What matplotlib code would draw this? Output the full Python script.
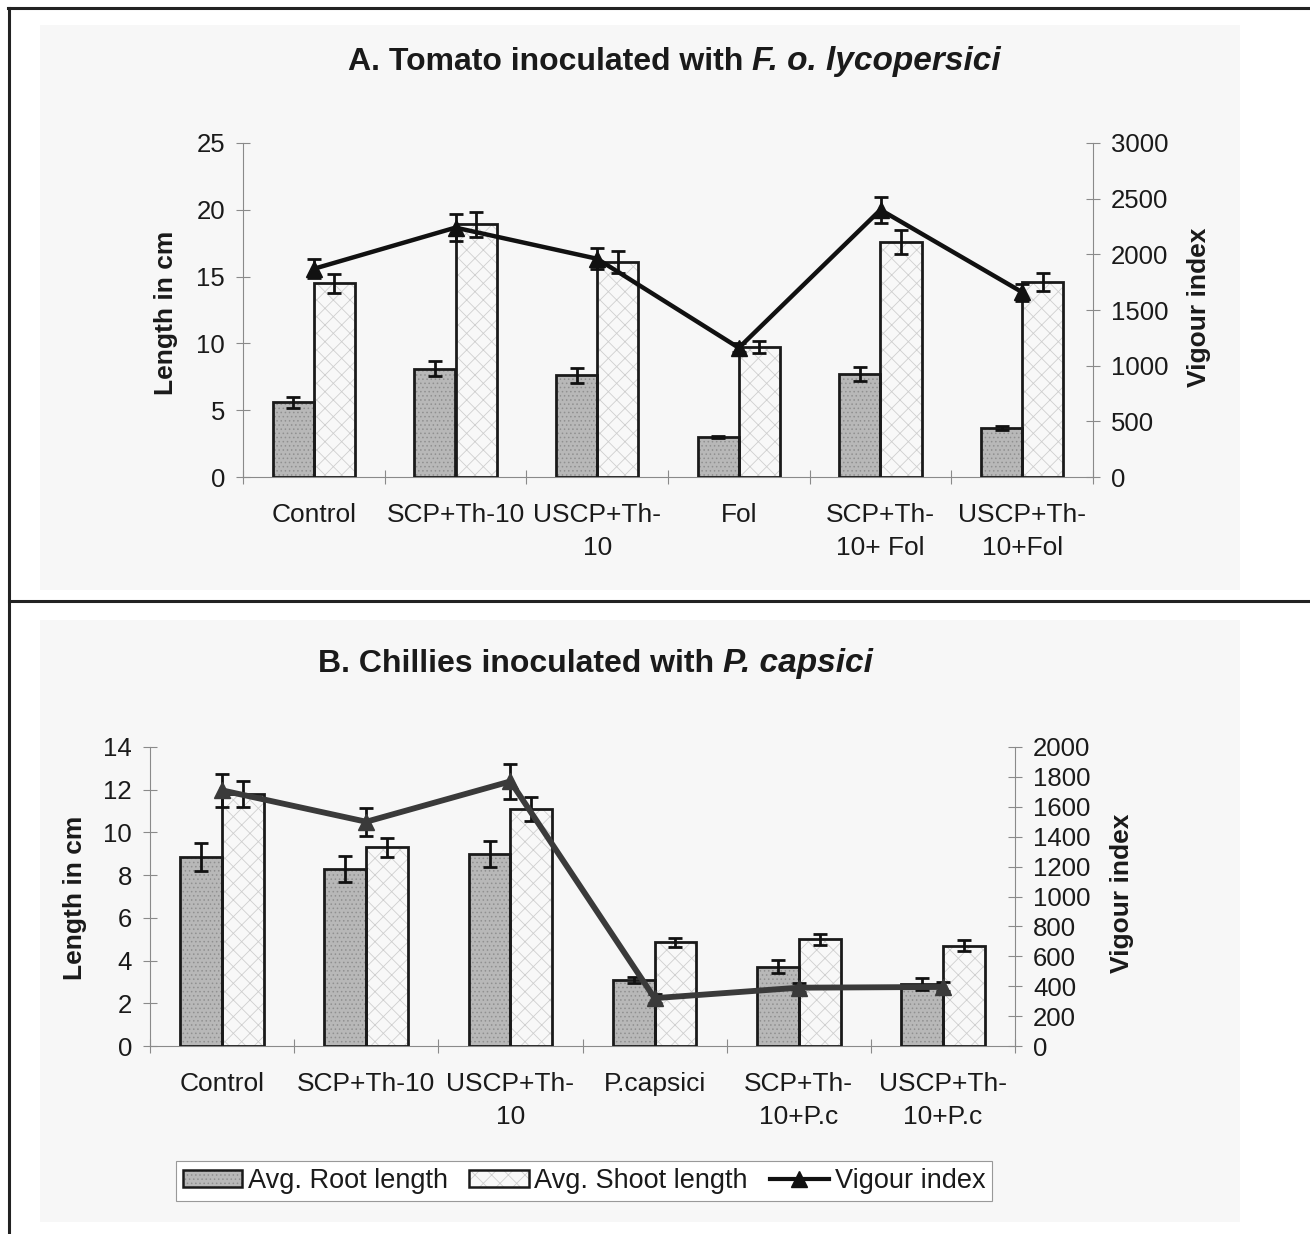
import matplotlib
matplotlib.use("Agg")
import matplotlib.pyplot as plt
from matplotlib.patches import Patch, Rectangle
from matplotlib.lines import Line2D
import numpy as np

plt.rcParams['font.family'] = ['Liberation Sans', 'DejaVu Sans']
plt.rcParams['hatch.linewidth'] = 0.6

# ---------------- data ----------------
categories_A = ['Control', 'SCP+Th-10', 'USCP+Th-\n10', 'Fol', 'SCP+Th-\n10+ Fol', 'USCP+Th-\n10+Fol']
root_A = [5.6, 8.1, 7.6, 3.0, 7.7, 3.7]
root_A_err = [0.4, 0.55, 0.55, 0.1, 0.55, 0.15]
shoot_A = [14.5, 18.9, 16.1, 9.7, 17.6, 14.6]
shoot_A_err = [0.7, 0.95, 0.8, 0.45, 0.9, 0.7]
vig_A = [1870, 2240, 1960, 1160, 2400, 1660]
vig_A_err = [85, 120, 95, 40, 115, 75]

categories_B = ['Control', 'SCP+Th-10', 'USCP+Th-\n10', 'P.capsici', 'SCP+Th-\n10+P.c', 'USCP+Th-\n10+P.c']
root_B = [8.85, 8.3, 9.0, 3.1, 3.72, 2.9]
root_B_err = [0.65, 0.6, 0.6, 0.15, 0.3, 0.3]
shoot_B = [11.8, 9.3, 11.1, 4.85, 5.0, 4.7]
shoot_B_err = [0.6, 0.45, 0.55, 0.22, 0.25, 0.25]
vig_B = [1710, 1500, 1770, 320, 390, 395]
vig_B_err = [110, 95, 115, 30, 30, 30]

legend_labels = ['Avg. Root length', 'Avg. Shoot length', 'Vigour index']

W, H = 1310, 1234
fig = plt.figure(figsize=(W / 100, H / 100), dpi=100)
fig.patch.set_facecolor('white')

def fx(px):
    return px / W

def fy(py):
    return 1 - py / H

# panel backgrounds (scanned paper tone)
for (x0, y0, x1, y1) in [(40, 25, 1240, 590), (40, 620, 1240, 1222)]:
    fig.add_artist(Rectangle((fx(x0), fy(y1)), fx(x1) - fx(x0), fy(y0) - fy(y1),
                             transform=fig.transFigure, facecolor='#f7f7f7',
                             edgecolor='none', zorder=0))

# frame lines
for xs, ys in [([8, 1310], [8, 8]), ([9, 9], [8, 1234]), ([9, 1310], [601, 601])]:
    fig.add_artist(Line2D([fx(v) for v in xs], [fy(v) for v in ys],
                          transform=fig.transFigure, color='#222222', lw=2.2, zorder=1))

ROOT_FILL = '#b8b8b8'
ROOT_HATCH = '#909090'
SHOOT_FILL = '#f8f8f8'
SHOOT_HATCH = '#cfcfcf'
SPINE = '#8a8a8a'
TXT = '#1a1a1a'

def make_panel(rect, cats, root, root_err, shoot, shoot_err, vig, vig_err,
               ylim, yticks, y2lim, y2ticks, line_color, line_w):
    ax = fig.add_axes(rect)
    ax.set_facecolor('none')
    x = np.arange(len(cats))
    w = 0.29
    # root bars
    ax.bar(x - w / 2, root, w, color=ROOT_FILL, edgecolor=ROOT_HATCH, hatch='....', linewidth=0, zorder=2)
    ax.bar(x - w / 2, root, w, fill=False, edgecolor='#1a1a1a', linewidth=2.0, zorder=3)
    # shoot bars
    ax.bar(x + w / 2, shoot, w, color=SHOOT_FILL, edgecolor=SHOOT_HATCH, hatch='xx', linewidth=0, zorder=2)
    ax.bar(x + w / 2, shoot, w, fill=False, edgecolor='#1a1a1a', linewidth=2.0, zorder=3)
    ax.errorbar(x - w / 2, root, yerr=root_err, fmt='none', ecolor='#111111',
                elinewidth=2, capsize=5, capthick=2, zorder=4)
    ax.errorbar(x + w / 2, shoot, yerr=shoot_err, fmt='none', ecolor='#111111',
                elinewidth=2, capsize=5, capthick=2, zorder=4)
    ax.set_xlim(-0.5, len(cats) - 0.5)
    ax.set_ylim(*ylim)
    ax.set_yticks(yticks)
    ax.set_xticks(x)
    ax.set_xticklabels(cats, fontsize=19, color=TXT, linespacing=1.45)
    ax.set_xticks(np.arange(-0.5, len(cats)), minor=True)
    ax.tick_params(axis='x', which='major', length=0, pad=19)
    ax.tick_params(axis='x', which='minor', length=10, direction='inout', color=SPINE, width=0.8)
    ax.tick_params(axis='y', length=10, direction='inout', color=SPINE, width=0.8,
                   labelsize=18.5, labelcolor=TXT, pad=8)
    for s in ['top', 'right']:
        ax.spines[s].set_visible(False)
    for s in ['left', 'bottom']:
        ax.spines[s].set_color(SPINE)
        ax.spines[s].set_linewidth(0.8)

    ax2 = ax.twinx()
    ax2.set_facecolor('none')
    ax2.errorbar(x, vig, yerr=vig_err, fmt='-^', color=line_color, lw=line_w,
                 ms=12, mfc=line_color, mec=line_color, ecolor='#111111',
                 elinewidth=2, capsize=5, capthick=2, zorder=5)
    ax2.set_ylim(*y2lim)
    ax2.set_yticks(y2ticks)
    ax2.tick_params(axis='y', length=10, direction='inout', color=SPINE, width=0.8,
                    labelsize=18.5, labelcolor=TXT, pad=8)
    for s in ['top', 'left', 'bottom']:
        ax2.spines[s].set_visible(False)
    ax2.spines['right'].set_color(SPINE)
    ax2.spines['right'].set_linewidth(0.8)
    return ax, ax2

# Panel A
axA, axA2 = make_panel([fx(243), fy(477), fx(1093) - fx(243), fy(143) - fy(477)],
                       categories_A, root_A, root_A_err, shoot_A, shoot_A_err,
                       vig_A, vig_A_err, (0, 25), np.arange(0, 26, 5),
                       (0, 3000), np.arange(0, 3001, 500), '#111111', 3.2)

# Panel B
axB, axB2 = make_panel([fx(150), fy(1046), fx(1015) - fx(150), fy(747) - fy(1046)],
                       categories_B, root_B, root_B_err, shoot_B, shoot_B_err,
                       vig_B, vig_B_err, (0, 14), np.arange(0, 15, 2),
                       (0, 2000), np.arange(0, 2001, 200), '#3a3a3a', 4.2)

# titles (bold + bold italic part)
fig.text(fx(743), fy(70), 'A. Tomato inoculated with', fontsize=23, fontweight='bold',
         ha='right', va='baseline', color=TXT)
fig.text(fx(752), fy(70), 'F. o. lycopersici', fontsize=24, fontweight='bold',
         fontstyle='italic', ha='left', va='baseline', color=TXT)
fig.text(fx(714), fy(672), 'B. Chillies inoculated with', fontsize=23, fontweight='bold',
         ha='right', va='baseline', color=TXT)
fig.text(fx(723), fy(672), 'P. capsici', fontsize=24, fontweight='bold',
         fontstyle='italic', ha='left', va='baseline', color=TXT)

# axis labels
lab_kw = dict(fontsize=19, fontweight='bold', rotation=90, ha='center', va='center', color=TXT)
fig.text(fx(166), fy(313), 'Length in cm', **lab_kw)
fig.text(fx(1199), fy(307), 'Vigour index', **lab_kw)
fig.text(fx(75), fy(898), 'Length in cm', **lab_kw)
fig.text(fx(1122), fy(893), 'Vigour index', **lab_kw)

# legend
h_root = (Patch(facecolor=ROOT_FILL, edgecolor=ROOT_HATCH, hatch='....', linewidth=0),
          Patch(fill=False, edgecolor='#1a1a1a', linewidth=1.8))
h_shoot = (Patch(facecolor=SHOOT_FILL, edgecolor=SHOOT_HATCH, hatch='xx', linewidth=0),
           Patch(fill=False, edgecolor='#1a1a1a', linewidth=1.8))
h_vig = Line2D([], [], color='#111111', lw=3, marker='^', ms=11)
leg = fig.legend([h_root, h_shoot, h_vig], legend_labels, loc='center',
                 bbox_to_anchor=(fx(584), fy(1181)), ncol=3, fontsize=19.5,
                 frameon=True, fancybox=False, edgecolor='#999999', framealpha=1,
                 facecolor='white', handlelength=2.2, handleheight=0.55,
                 handletextpad=0.2, columnspacing=0.8, borderpad=0.25,
                 borderaxespad=0)
leg.get_frame().set_linewidth(0.8)
for t in leg.get_texts():
    t.set_color(TXT)

fig.savefig('out.png', dpi=100)
